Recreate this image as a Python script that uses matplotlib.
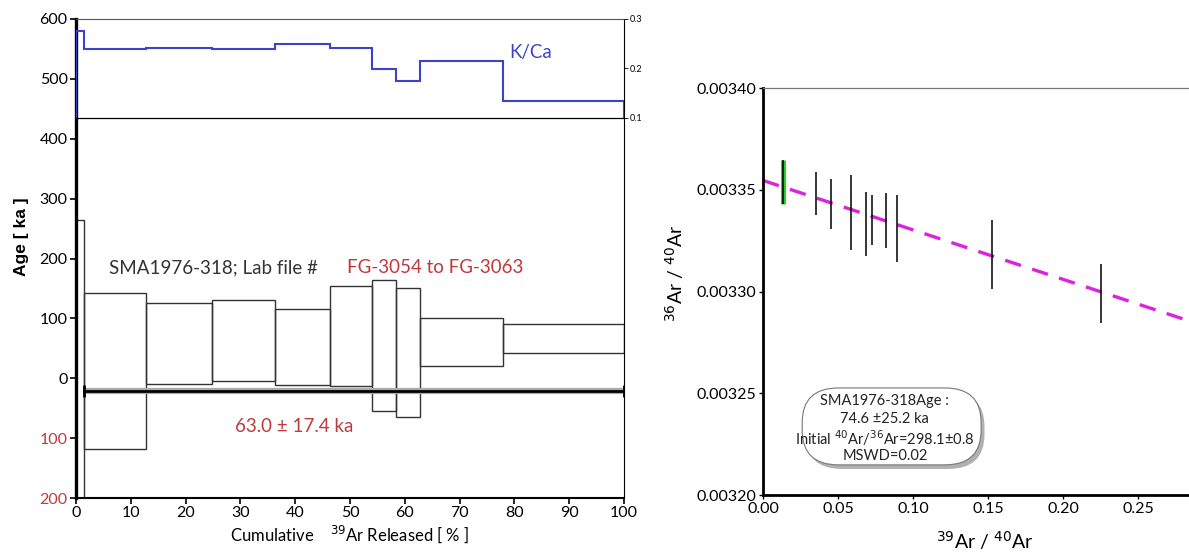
import numpy as np
import matplotlib
matplotlib.use("Agg")
import matplotlib.pyplot as plt
from matplotlib.patches import FancyBboxPatch
from matplotlib.ticker import FuncFormatter

plt.rcParams['font.family'] = ['Lato', 'DejaVu Sans']

# ---- step-heating spectrum data ----
step_edges = [0, 1.5, 12.7, 24.9, 36.4, 46.4, 54.1, 58.4, 62.8, 78.0, 100]
age_top = [265, 143, 126, 130, 116, 154, 164, 151, 101, 91]
age_bottom = [-260, -118, -10, -4, -11, -13, -55, -65, 20, 43]
kca = [0.276, 0.239, 0.242, 0.239, 0.250, 0.241, 0.198, 0.174, 0.215, 0.134]
plateau_level = -21
plateau_text = "63.0 \u00b1 17.4 ka"

# ---- isochron data ----
ar39_ar40 = [0.0131, 0.0350, 0.0451, 0.0586, 0.0686, 0.0728, 0.0823, 0.0894, 0.1529, 0.2252]
ar36_ar40 = [0.003354, 0.003348, 0.003343, 0.003339, 0.003333, 0.003335, 0.003335, 0.003331, 0.003318, 0.003299]
ar36_err = [1.08e-5, 1.05e-5, 1.21e-5, 1.84e-5, 1.57e-5, 1.22e-5, 1.35e-5, 1.66e-5, 1.70e-5, 1.45e-5]
fit_intercept = 1 / 298.1
fit_slope = -0.000243

red = '#c0393b'
blue = '#3a44c8'
edge = '#333333'

W, H = 1189, 557
fig = plt.figure(figsize=(W / 100, H / 100), dpi=100)

# main age spectrum axes
ax = fig.add_axes([76 / W, 1 - 498 / H, 548 / W, 479 / H])
lefts = step_edges[:-1]
widths = np.diff(step_edges)
heights = np.array(age_top) - np.array(age_bottom)
ax.bar(lefts, heights, width=widths, bottom=age_bottom, align='edge',
       fill=False, edgecolor=edge, linewidth=1.0)
ax.plot([step_edges[1], step_edges[-1]], [plateau_level, plateau_level],
        color='#aaaaaa', lw=4.5, solid_capstyle='butt', zorder=3)
ax.plot([step_edges[1], step_edges[-1]], [plateau_level, plateau_level],
        color='black', lw=2.0, marker='|', ms=8, mew=2, zorder=4)

ax.set_xlim(0, 100)
ax.set_ylim(-200, 600)
ax.set_yticks(range(-200, 601, 100))
ax.yaxis.set_major_formatter(FuncFormatter(lambda v, p: f"{abs(int(v))}"))
for lab, v in zip(ax.get_yticklabels(), range(-200, 601, 100)):
    if v < 0:
        lab.set_color(red)
ax.set_xticks(range(0, 101, 10))
ax.tick_params(axis='both', labelsize=11.5, length=4, width=1.2, direction='out', pad=2)
ax.spines['left'].set_linewidth(2.4)
ax.spines['bottom'].set_linewidth(1.5)
ax.spines['top'].set_linewidth(0.8)
ax.spines['right'].set_linewidth(0.8)
ax.spines['top'].set_color('#555555')

ax.set_ylabel("Age [ ka ]", fontsize=12.5, fontweight='bold',
              family=['Liberation Sans', 'DejaVu Sans'], labelpad=4)
ax.yaxis.set_label_coords(-0.085, 0.545)
ax.set_xlabel("Cumulative    $^{39}$Ar Released [ % ]", fontsize=12, labelpad=2)

ax.text(6.0, 185, "SMA1976-318; Lab file #", fontsize=13.5, color='#333333', va='center')
ax.text(49.4, 185, "FG-3054 to FG-3063", fontsize=13.5, color=red, va='center')
ax.text(29.0, -81, plateau_text, fontsize=13.5, color=red, va='center')

# K/Ca panel overlay
axk = fig.add_axes([76 / W, 1 - 118 / H, 548 / W, 99 / H])
axk.patch.set_alpha(0)
axk.stairs(kca, step_edges, color=blue, lw=1.5)
axk.set_xlim(0, 100)
axk.set_ylim(0.1, 0.3)
axk.set_xticks([])
axk.yaxis.tick_right()
axk.set_yticks([0.1, 0.2, 0.3])
axk.set_yticklabels(["0.1", "0.2", "0.3"])
axk.tick_params(axis='y', labelsize=6.5, length=3, width=0.6, pad=1)
for s in ['top', 'left', 'right']:
    axk.spines[s].set_visible(False)
axk.spines['bottom'].set_linewidth(0.9)
axk.text(79.0, 0.232, "K/Ca", fontsize=13.5, color=blue, va='center')

# isochron axes
ax2 = fig.add_axes([763 / W, 1 - 495 / H, (W - 763) / W, 407 / H])
xs = np.array([0, 0.30])
ax2.plot(xs, fit_intercept + fit_slope * xs, color='#dd22dd', lw=2.4,
         linestyle=(0, (5, 3.5)), zorder=2)
ax2.errorbar(ar39_ar40[:1], ar36_ar40[:1], yerr=ar36_err[:1], fmt='none',
             ecolor='#22cc22', elinewidth=3.5, capsize=0, zorder=3)
ax2.errorbar(ar39_ar40, ar36_ar40, yerr=ar36_err, fmt='none',
             ecolor='black', elinewidth=1.1, capsize=0, zorder=4)
ax2.set_xlim(0, (W - 763) / 1500)
ax2.set_ylim(0.00320, 0.00340)
ax2.set_yticks([0.00320, 0.00325, 0.00330, 0.00335, 0.00340])
ax2.yaxis.set_major_formatter(FuncFormatter(lambda v, p: f"{v:.5f}"))
ax2.set_xticks([0, 0.05, 0.10, 0.15, 0.20, 0.25])
ax2.xaxis.set_major_formatter(FuncFormatter(lambda v, p: f"{v:.2f}"))
ax2.tick_params(axis='both', labelsize=11.5, length=3, width=1.0, direction='out', pad=2)
ax2.spines['left'].set_linewidth(2.0)
ax2.spines['bottom'].set_linewidth(2.0)
ax2.spines['right'].set_visible(False)
ax2.spines['top'].set_linewidth(0.9)
ax2.spines['top'].set_color('#777777')
ax2.set_ylabel("$^{36}$Ar / $^{40}$Ar", fontsize=14)
ax2.yaxis.set_label_coords(-0.181, 0.545)
ax2.set_xlabel("$^{39}$Ar / $^{40}$Ar", fontsize=14)
ax2.xaxis.set_label_coords(0.52, -0.085)

# rounded result box
bx0, by0, bw, bh = 0.092, 0.074, 0.42, 0.189
for off, fc, ec in [((0.008, -0.01), '#b0b0b0', 'none'), ((0, 0), 'white', '#777777')]:
    box = FancyBboxPatch((bx0 + off[0], by0 + off[1]), bw, bh,
                         boxstyle="round,pad=0,rounding_size=0.085",
                         transform=ax2.transAxes, facecolor=fc, edgecolor=ec,
                         lw=0.8, zorder=5)
    ax2.add_patch(box)
lines = ["SMA1976-318Age :", "74.6 \u00b125.2 ka",
         "Initial $^{40}$Ar/$^{36}$Ar=298.1\u00b10.8", "MSWD=0.02"]
line_y = [0.231, 0.187, 0.140, 0.096]
for t, ty in zip(lines, line_y):
    ax2.text(0.286, ty, t, transform=ax2.transAxes,
             ha='center', va='center', fontsize=10.5, color='#222222', zorder=6)

fig.savefig("out.png", dpi=100)
